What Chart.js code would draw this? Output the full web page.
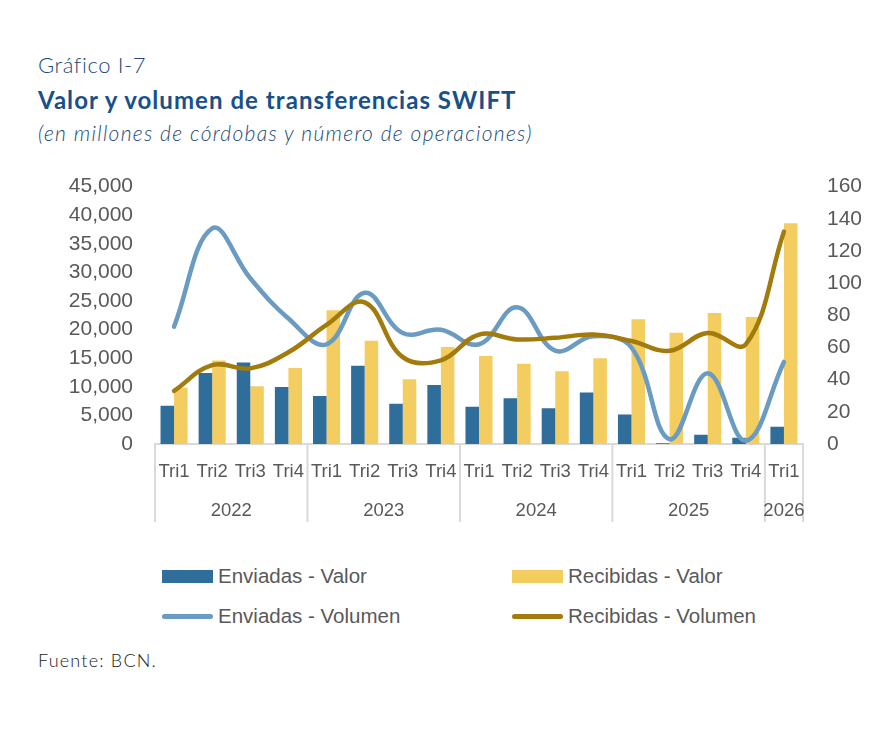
<!DOCTYPE html>
<html>
<head>
<meta charset="utf-8">
<script src="https://cdn.jsdelivr.net/npm/chart.js@4.4.1/dist/chart.umd.min.js"></script>
<style>
  body { margin: 0; background: #fff; }
  #page { position: relative; width: 874px; height: 730px; overflow: hidden; }
  .t { position: absolute; left: 38px; white-space: nowrap; font-family: Lato, "DejaVu Sans", sans-serif; }
  #num { top: 51px; font-size: 22px; color: #1c4a78; font-weight: 300; letter-spacing: 0.6px; }
  #title { top: 85px; font-size: 24px; color: #17508a; font-weight: 700; letter-spacing: 1.05px; }
  #sub { top: 120px; font-size: 21px; color: #1c4a78; font-style: italic; font-weight: 300; letter-spacing: 1.3px; }
  #src { top: 649px; font-size: 18px; color: #1a1a1a; letter-spacing: 1.2px; font-weight: 300; }
  #chart { position: absolute; left: 0; top: 150px; }
  #legend { position: absolute; left: 162px; top: 562px; display: grid;
            grid-template-columns: 350px 300px; row-gap: 12px;
            font-family: "Liberation Sans", Arial, sans-serif; font-size: 20.5px; color: #595959; }
  .item { display: flex; align-items: center; height: 28px; }
  .sw { width: 51px; margin-right: 5px; }
</style>
</head>
<body>
<div id="page">
  <div class="t" id="num">Gráfico I-7</div>
  <div class="t" id="title">Valor y volumen de transferencias SWIFT</div>
  <div class="t" id="sub">(en millones de córdobas y número de operaciones)</div>
  <canvas id="chart" width="874" height="390"></canvas>
  <div id="legend"></div>
  <div class="t" id="src">Fuente: BCN.</div>
</div>
<script>
const quarters = ['Tri1', 'Tri2', 'Tri3', 'Tri4', 'Tri1', 'Tri2', 'Tri3', 'Tri4',
                  'Tri1', 'Tri2', 'Tri3', 'Tri4', 'Tri1', 'Tri2', 'Tri3', 'Tri4', 'Tri1'];
const years = ['2022', '2023', '2024', '2025', '2026'];
const yearSpans = [4, 4, 4, 4, 1];

const enviadasValor = [6700, 12400, 14250, 9950, 8400, 13700, 7050, 10300,
                       6500, 8000, 6250, 9000, 5150, 150, 1600, 1100, 3000];
const recibidasValor = [9850, 14600, 10100, 13300, 23400, 18050, 11300, 16950,
                        15400, 14050, 12700, 15000, 21800, 19450, 22900, 22200, 38600];
const enviadasVolumen = [73, 134, 103, 78, 62, 94, 69, 71,
                         62, 85, 58, 67, 60, 3, 44, 2, 51];
const recibidasVolumen = [33, 49, 47, 57, 74, 88, 54, 52,
                          68, 65, 66, 68, 64, 58, 69, 62, 132];

const leftTicks = { max: 45000, step: 5000 };
const rightTicks = { max: 160, step: 20 };

const GRAY = '#595959';
const LINE_GRAY = '#d9d9d9';
const TICK_FONT = { family: '"Liberation Sans", Arial, sans-serif', size: 21 };
const CAT_FONT = { family: '"Liberation Sans", Arial, sans-serif', size: 18.5 };

// year row and separators under the quarter labels
const yearGroups = {
  id: 'yearGroups',
  afterDraw(chart) {
    const { ctx, scales: { x } } = chart;
    const half = (x.getPixelForValue(1) - x.getPixelForValue(0)) / 2;
    const top = x.top;
    const bottom = top + 78;
    ctx.save();
    ctx.strokeStyle = LINE_GRAY;
    ctx.lineWidth = 2;
    ctx.fillStyle = GRAY;
    ctx.font = `${CAT_FONT.size}px ${CAT_FONT.family}`;
    ctx.textAlign = 'center';
    ctx.textBaseline = 'middle';
    let start = 0;
    const edge = px => { ctx.beginPath(); ctx.moveTo(px, top); ctx.lineTo(px, bottom); ctx.stroke(); };
    edge(x.getPixelForValue(0) - half);
    yearSpans.forEach((span, i) => {
      const end = start + span - 1;
      edge(x.getPixelForValue(end) + half);
      const mid = (x.getPixelForValue(start) + x.getPixelForValue(end)) / 2;
      ctx.fillText(years[i], mid, top + 67);
      start += span;
    });
    ctx.restore();
  }
};

const chart = new Chart(document.getElementById('chart'), {
  type: 'bar',
  data: {
    labels: quarters,
    datasets: [
      {
        label: 'Enviadas - Valor',
        data: enviadasValor,
        backgroundColor: '#2f6d9b',
        yAxisID: 'y',
        order: 2,
        categoryPercentage: 0.71,
        barPercentage: 1
      },
      {
        label: 'Recibidas - Valor',
        data: recibidasValor,
        backgroundColor: '#f4cd60',
        yAxisID: 'y',
        order: 2,
        categoryPercentage: 0.71,
        barPercentage: 1
      },
      {
        type: 'line',
        label: 'Enviadas - Volumen',
        data: enviadasVolumen,
        borderColor: '#6a9bc3',
        borderWidth: 4.5,
        pointRadius: 0,
        tension: 0.4,
        borderCapStyle: 'round',
        yAxisID: 'y1',
        order: 1
      },
      {
        type: 'line',
        label: 'Recibidas - Volumen',
        data: recibidasVolumen,
        borderColor: '#a27b0c',
        borderWidth: 4.5,
        pointRadius: 0,
        tension: 0.4,
        borderCapStyle: 'round',
        yAxisID: 'y1',
        order: 0
      }
    ]
  },
  options: {
    responsive: false,
    animation: false,
    layout: { padding: { top: 0, left: 0, right: 0, bottom: 0 } },
    plugins: { legend: { display: false }, tooltip: { enabled: false } },
    scales: {
      x: {
        grid: { display: false, drawTicks: false },
        border: { display: true, color: LINE_GRAY, width: 2 },
        ticks: { color: GRAY, font: CAT_FONT, padding: 17, maxRotation: 0, autoSkip: false },
        afterFit(scale) { scale.height = 96; }
      },
      y: {
        position: 'left',
        min: 0,
        max: leftTicks.max,
        grid: { display: false, drawTicks: false },
        border: { display: false },
        ticks: { stepSize: leftTicks.step, color: GRAY, font: TICK_FONT, padding: 22, autoSkip: false },
        afterFit(scale) { scale.width = 155; }
      },
      y1: {
        position: 'right',
        min: 0,
        max: rightTicks.max,
        grid: { display: false, drawTicks: false },
        border: { display: false },
        ticks: { stepSize: rightTicks.step, color: GRAY, font: TICK_FONT, padding: 24, autoSkip: false },
        afterFit(scale) { scale.width = 71; }
      }
    }
  },
  plugins: [yearGroups]
});

// legend in two columns, built from the chart datasets
const legend = document.getElementById('legend');
chart.data.datasets.forEach(ds => {
  const item = document.createElement('div');
  item.className = 'item';
  const sw = document.createElement('span');
  sw.className = 'sw';
  if (ds.type === 'line') {
    sw.style.height = '5px';
    sw.style.borderRadius = '3px';
    sw.style.background = ds.borderColor;
  } else {
    sw.style.height = '13px';
    sw.style.background = ds.backgroundColor;
  }
  item.appendChild(sw);
  item.appendChild(document.createTextNode(ds.label));
  legend.appendChild(item);
});
</script>
</body>
</html>
